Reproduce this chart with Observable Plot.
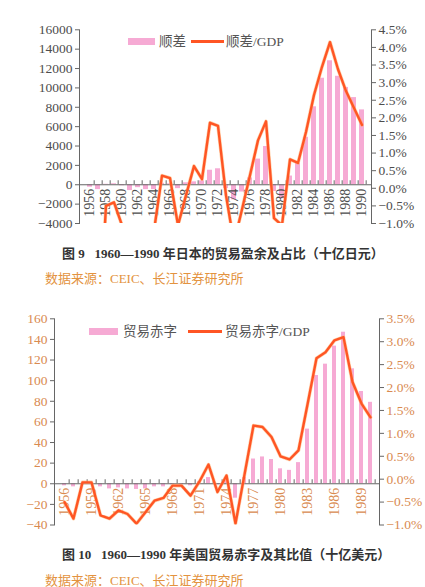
<!DOCTYPE html>
<html><head><meta charset="utf-8">
<script src="https://cdn.jsdelivr.net/npm/d3@7"></script>
<script src="https://cdn.jsdelivr.net/npm/@observablehq/plot@0.6"></script>
<style>
html,body{margin:0;padding:0;background:#fff;}
#root{position:relative;width:425px;height:587px;overflow:hidden;background:#fff;}
#root svg{position:absolute;left:0;}
.abs{position:absolute;white-space:nowrap;line-height:1;font-family:"Liberation Serif","Times New Roman","Noto Sans CJK SC",serif;}
.sw{position:absolute;}
</style></head><body><div id="root"></div>
<script>
// ---------- data ----------
const years = [1956,1957,1958,1959,1960,1961,1962,1963,1964,1965,1966,1967,1968,1969,1970,1971,1972,1973,1974,1975,1976,1977,1978,1979,1980,1981,1982,1983,1984,1985,1986,1987,1988,1989,1990];
// Japan trade surplus (十亿日元)
const jpSurplus = [-250,-500,50,100,-100,-600,-300,-500,-500,150,100,-400,200,300,400,1500,1650,-400,-1550,-750,700,2650,3950,-700,-1450,900,2200,4900,8050,11000,12800,11200,10050,9000,7730];
// Japan surplus / GDP (%)
const jpRatio = [NaN,-4.5,-0.5,-0.4,-1.05,-1.6,-1.4,-1.7,-1.2,0.36,0.29,-1.05,-0.2,0.63,0.26,1.86,1.77,-0.2,-1.55,-0.6,0.37,1.36,1.9,-0.85,-1.05,0.82,0.72,1.6,2.65,3.45,4.15,3.38,2.76,2.28,1.8];
// US trade deficit (十亿美元)
const usDeficit = [-2,-3,-1,0.5,-3,-5,-4,-5,-5.5,-5,-3,-3,-1,-1,-2,2,6,-1,3,-14,6,24,26,23.5,14.5,13,20.5,53,105,116,133.5,147,111.5,89.5,79];
// US deficit / GDP (%)
const usRatio = [-0.5,-0.86,-0.07,-0.07,-0.79,-0.86,-0.68,-0.76,-0.97,-0.72,-0.47,-0.41,-0.14,-0.14,-0.36,-0.05,0.32,-0.28,0.08,-0.97,0.1,1.17,1.14,0.92,0.5,0.43,0.63,1.63,2.64,2.77,3.03,3.1,2.12,1.65,1.35];

const jpLabelYears = [1956,1958,1960,1962,1964,1966,1968,1970,1972,1974,1976,1978,1980,1982,1984,1986,1988,1990];
const usLabelYears = [1956,1959,1962,1965,1968,1971,1974,1977,1980,1983,1986,1989];
const jpLeftTicks = [-4000,-2000,0,2000,4000,6000,8000,10000,12000,14000,16000];
const jpRightTicks = [-1.0,-0.5,0.0,0.5,1.0,1.5,2.0,2.5,3.0,3.5,4.0,4.5];
const usLeftTicks = [-40,-20,0,20,40,60,80,100,120,140,160];
const usRightTicks = [-1.0,-0.5,0.0,0.5,1.0,1.5,2.0,2.5,3.0,3.5];

const PINK = "#f6aad4";
const LINE = "#ff5524";
const SERIF = "'Liberation Serif','Times New Roman',serif";
const minus = s => s.replace("-", "\u2212");
const fmtPct = v => minus((Math.round(v*10)/10).toFixed(1) + "%");

function chart(o) {
  const rows = years.map((y, i) => ({year: y, v: o.bars[i], r: o.ratio[i]}));
  const [y0, y1] = o.yDomain, [r0, r1] = o.rDomain;
  const toLeft = r => y0 + (r - r0) / (r1 - r0) * (y1 - y0);
  const fromLeft = v => r0 + (v - y0) / (y1 - y0) * (r1 - r0);
  const step = (425 - o.ml - o.mr) / years.length;
  const svg = Plot.plot({
    width: 425, height: o.height,
    marginLeft: o.ml, marginRight: o.mr, marginTop: o.mt, marginBottom: o.mb,
    style: {fontFamily: SERIF, fontSize: "13.5px", background: "transparent", overflow: "visible"},
    x: {type: "band", domain: years, paddingInner: o.pad, paddingOuter: o.pad / 2, axis: null},
    y: {domain: o.yDomain, axis: null},
    marks: [
      Plot.barY(rows, {x: "year", y: "v", fill: PINK}),
      Plot.ruleY([0], {stroke: "#666", strokeWidth: 1.2}),
      Plot.ruleX(years, {x: d => d, y1: () => 0, y2: () => 0, insetTop: -4, dx: step / 2, stroke: "#666"}),
      Plot.text(o.labelYears, {x: d => d, y: () => 0, text: d => String(d), rotate: -90, textAnchor: "end", dy: 4, fill: o.xColor, fontSize: 14, fontFamily: SERIF}),
      Plot.lineY(rows, {x: "year", y: d => toLeft(d.r), stroke: "#ffb070", strokeWidth: 3.6, strokeOpacity: 0.6, clip: true}),
      Plot.lineY(rows, {x: "year", y: d => toLeft(d.r), stroke: LINE, strokeWidth: 2.4, clip: true}),
      Plot.axisY({ticks: o.leftTicks, anchor: "left", tickSize: 4, tickPadding: 3, tickFormat: v => minus(String(v)), stroke: "#666", fill: o.tickColor, fontFamily: SERIF, fontSize: 13.5, label: null}),
      Plot.axisY({ticks: o.rightTicks.map(toLeft), anchor: "right", tickSize: 4, tickPadding: 3, tickFormat: v => fmtPct(fromLeft(v)), stroke: "#666", fill: o.tickColor, fontFamily: SERIF, fontSize: 13.5, label: null}),
      Plot.frame({anchor: "left", stroke: "#666"}),
      Plot.frame({anchor: "right", stroke: "#666"})
    ]
  });
  svg.style.top = o.top + "px";
  return svg;
}

const root = document.getElementById("root");
root.appendChild(chart({top: 0, height: 236, ml: 79, mr: 54, mt: 29.3, mb: 13, pad: 0.4,
  yDomain: [-4000, 16000], rDomain: [-1, 4.5], leftTicks: jpLeftTicks, rightTicks: jpRightTicks,
  bars: jpSurplus, ratio: jpRatio, labelYears: jpLabelYears, tickColor: "#4d4d4d", xColor: "#4d4d4d"}));
root.appendChild(chart({top: 300, height: 234, ml: 54, mr: 46, mt: 18.3, mb: 9.5, pad: 0.6,
  yDomain: [-40, 160], rDomain: [-1, 3.5], leftTicks: usLeftTicks, rightTicks: usRightTicks,
  bars: usDeficit, ratio: usRatio, labelYears: usLabelYears, tickColor: "#d98a50", xColor: "#d98a50"}));

function add(html, left, top, style) {
  const d = document.createElement("div");
  d.className = "abs"; d.innerHTML = html;
  d.style.left = left + "px"; d.style.top = top + "px";
  Object.assign(d.style, style || {});
  root.appendChild(d);
}
function sw(left, top, w, h, color) {
  const d = document.createElement("div");
  d.className = "sw";
  Object.assign(d.style, {left: left + "px", top: top + "px", width: w + "px", height: h + "px", background: color});
  root.appendChild(d);
}
// legends
sw(128, 38, 27, 7, PINK);
add("顺差", 159, 34.5, {fontSize: "13.5px", color: "#555"});
sw(191, 40, 33, 2.6, LINE);
add("顺差/GDP", 226, 34.5, {fontSize: "13.5px", color: "#555"});
sw(89, 328, 29, 7, PINK);
add("贸易赤字", 123, 324.5, {fontSize: "13.5px", color: "#555"});
sw(188, 330, 34, 2.6, LINE);
add("贸易赤字/GDP", 225, 324.5, {fontSize: "13.5px", color: "#555"});
// captions
add("图 9&nbsp;&nbsp;&nbsp;1960—1990 年日本的贸易盈余及占比（十亿日元）", 62, 246.5, {fontSize: "13px", fontWeight: "bold", color: "#333"});
add("数据来源：CEIC、长江证券研究所", 45, 271.5, {fontSize: "13px", color: "#e39340"});
add("图 10&nbsp;&nbsp;&nbsp;1960—1990 年美国贸易赤字及其比值（十亿美元）", 62, 547.5, {fontSize: "13px", fontWeight: "bold", color: "#333"});
add("数据来源：CEIC、长江证券研究所", 45, 573.5, {fontSize: "13px", color: "#e39340"});
</script></body></html>
